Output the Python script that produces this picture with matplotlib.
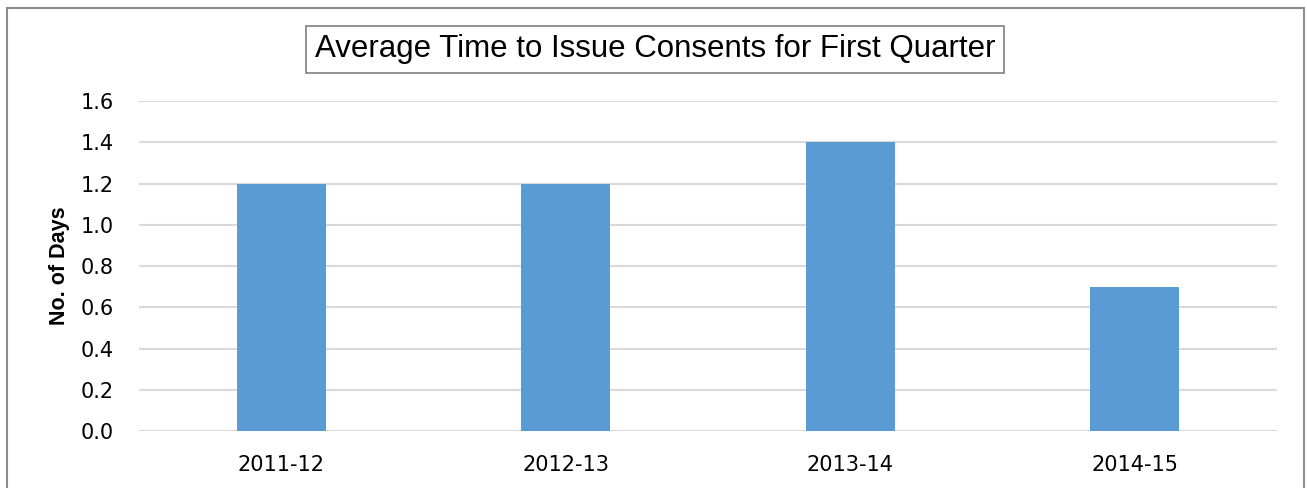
import matplotlib
matplotlib.use("Agg")
import matplotlib.pyplot as plt
from matplotlib.patches import Rectangle

# data
years = ["2011-12", "2012-13", "2013-14", "2014-15"]
days = [1.2, 1.2, 1.4, 0.7]
yticks = [0.0, 0.2, 0.4, 0.6, 0.8, 1.0, 1.2, 1.4, 1.6]

plt.rcParams['font.family'] = ['DejaVu Sans']

fig = plt.figure(figsize=(13.07, 4.88), dpi=100)
ax = fig.add_axes([0.1063, 0.1168, 0.8707, 0.6762])

ax.bar(range(len(years)), days, width=0.313, color='#5B9BD5', zorder=3)
ax.set_xlim(-0.5, len(years) - 0.5)
ax.set_ylim(0, 1.6)
ax.set_yticks(yticks)
ax.set_yticklabels(['%.1f' % v for v in yticks])
ax.set_xticks(range(len(years)))
ax.set_xticklabels(years)
ax.tick_params(axis='both', length=0, labelsize=15, colors='#000000')
ax.tick_params(axis='y', pad=18)
ax.tick_params(axis='x', pad=17)
ax.grid(axis='y', color='#D9D9D9', linewidth=1.5, zorder=0)
for s in ax.spines.values():
    s.set_visible(False)
ax.set_ylabel('No. of Days', fontsize=15.5, fontweight='bold', labelpad=8,
              family='Liberation Sans')

# title in a box
fig.text(0.5015, 0.899, 'Average Time to Issue Consents for First Quarter',
         ha='center', va='center', fontsize=22.5, family='Liberation Sans',
         bbox=dict(boxstyle='square,pad=0.28', fc='white', ec='#7F7F7F', lw=1.2))

# outer border (bottom edge cut off)
fig.patches.append(Rectangle((7 / 1307, -0.05), 1297 / 1307, 1 - 8 / 488 + 0.05,
                             transform=fig.transFigure, fill=False,
                             ec='#8C8C8C', lw=1.5))

fig.savefig('out.png', dpi=100)
